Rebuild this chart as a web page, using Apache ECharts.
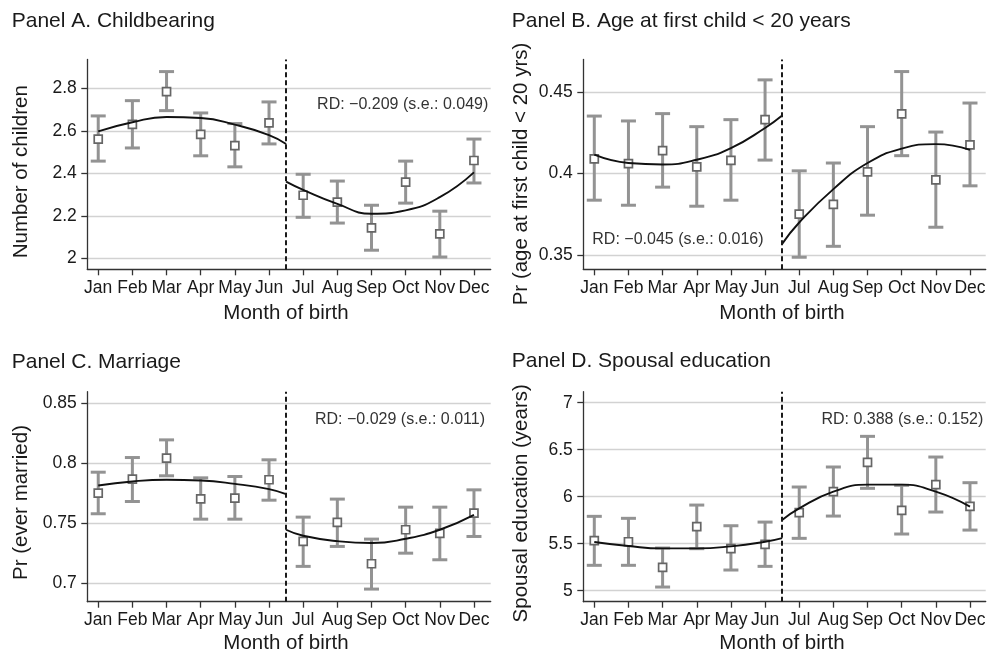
<!DOCTYPE html>
<html>
<head>
<meta charset="utf-8">
<script src="https://cdn.jsdelivr.net/npm/echarts@6/dist/echarts.min.js"></script>
<style>
  html, body { margin: 0; padding: 0; background: #fff; }
  #chart { width: 989px; height: 653px; }
</style>
</head>
<body>
<div id="chart"></div>
<script>
// Month of birth on the x axis (1 = Jan ... 12 = Dec)
const months = ['Jan', 'Feb', 'Mar', 'Apr', 'May', 'Jun', 'Jul', 'Aug', 'Sep', 'Oct', 'Nov', 'Dec'];
const monthNums = [1, 2, 3, 4, 5, 6, 7, 8, 9, 10, 11, 12];
const cutoff = 6.5;

// Panel A: number of children
const childMean = [2.562, 2.631, 2.786, 2.584, 2.531, 2.638, 2.297, 2.265, 2.143, 2.359, 2.115, 2.461];
const childLow  = [2.458, 2.520, 2.696, 2.483, 2.431, 2.539, 2.193, 2.166, 2.038, 2.260, 2.006, 2.355];
const childHigh = [2.671, 2.743, 2.880, 2.685, 2.635, 2.737, 2.396, 2.364, 2.250, 2.458, 2.222, 2.562];
const childFitPre  = [[1, 2.598], [2, 2.641], [3, 2.666], [4, 2.661], [5, 2.630], [6, 2.581], [6.5, 2.539]];
const childFitPost = [[6.5, 2.361], [7, 2.322], [8, 2.256], [9, 2.210], [10, 2.226], [11, 2.288], [12, 2.405]];
const childTicks = [2, 2.2, 2.4, 2.6, 2.8];

// Panel B: probability of first child before age 20
const teenMean = [0.409, 0.406, 0.414, 0.404, 0.408, 0.433, 0.375, 0.381, 0.401, 0.4365, 0.396, 0.4175];
const teenLow  = [0.3836, 0.3805, 0.3916, 0.3799, 0.3836, 0.4082, 0.3486, 0.3553, 0.3744, 0.4109, 0.3670, 0.3924];
const teenHigh = [0.4352, 0.4322, 0.4367, 0.4287, 0.4330, 0.4574, 0.4016, 0.4064, 0.4287, 0.4625, 0.4254, 0.4432];
const teenFitPre  = [[1, 0.4115], [2, 0.4064], [3, 0.4055], [4, 0.4084], [5, 0.4156], [6, 0.4279], [6.5, 0.4355]];
const teenFitPost = [[6.5, 0.3568], [7, 0.3699], [8, 0.3904], [9, 0.4064], [10, 0.4152], [11, 0.4180], [12, 0.4145]];
const teenTicks = [0.35, 0.4, 0.45];

// Panel C: probability of ever being married
const marMean = [0.7748, 0.7864, 0.8039, 0.7700, 0.7706, 0.7859, 0.7346, 0.7504, 0.7160, 0.7443, 0.7412, 0.7581];
const marLow  = [0.7576, 0.7678, 0.7892, 0.7531, 0.7531, 0.7689, 0.7138, 0.7304, 0.6949, 0.7248, 0.7193, 0.7387];
const marHigh = [0.7922, 0.8044, 0.8191, 0.7875, 0.7886, 0.8025, 0.7548, 0.7698, 0.7365, 0.7631, 0.7631, 0.7775];
const marFitPre  = [[1, 0.7811], [2, 0.7845], [3, 0.7859], [4, 0.7853], [5, 0.7825], [6, 0.7781], [6.5, 0.7739]];
const marFitPost = [[6.5, 0.7443], [7, 0.7393], [8, 0.7348], [9, 0.7332], [10, 0.7368], [11, 0.7443], [12, 0.7567]];
const marTicks = [0.7, 0.75, 0.8, 0.85];

// Panel D: spousal education in years
const eduMean = [5.532, 5.521, 5.248, 5.681, 5.447, 5.493, 5.830, 6.053, 6.365, 5.855, 6.128, 5.897];
const eduLow  = [5.270, 5.270, 5.039, 5.447, 5.220, 5.259, 5.557, 5.794, 6.089, 5.603, 5.837, 5.645];
const eduHigh = [5.791, 5.770, 5.454, 5.911, 5.691, 5.730, 6.103, 6.316, 6.642, 6.121, 6.422, 6.149];
const eduFitPre  = [[1, 5.518], [2, 5.475], [3, 5.450], [4, 5.450], [5, 5.472], [6, 5.521], [6.5, 5.560]];
const eduFitPost = [[6.5, 5.752], [7, 5.876], [8, 6.053], [9, 6.128], [10, 6.128], [11, 6.053], [12, 5.894]];
const eduTicks = [5, 5.5, 6, 6.5, 7];

const FONT = '"Liberation Sans", Arial, Helvetica, sans-serif';
const TEXT = '#1a1a1a';

const panels = [
  { mean: childMean, low: childLow, high: childHigh, pre: childFitPre, post: childFitPost, ticks: childTicks,
    grid: { left: 87.3, top: 59.5, width: 403.4, height: 209.8 }, x: [0.68, 12.49], y: [1.948, 2.937] },
  { mean: teenMean, low: teenLow, high: teenHigh, pre: teenFitPre, post: teenFitPost, ticks: teenTicks,
    grid: { left: 583.3, top: 59.5, width: 402.4, height: 209.8 }, x: [0.678, 12.46], y: [0.3412, 0.4699] },
  { mean: marMean, low: marLow, high: marHigh, pre: marFitPre, post: marFitPost, ticks: marTicks,
    grid: { left: 87.3, top: 391.7, width: 403.4, height: 210 }, x: [0.68, 12.49], y: [0.6844, 0.8592] },
  { mean: eduMean, low: eduLow, high: eduHigh, pre: eduFitPre, post: eduFitPost, ticks: eduTicks,
    grid: { left: 583.3, top: 391.7, width: 402.4, height: 210 }, x: [0.678, 12.46], y: [4.883, 7.117] }
];

// Vertical confidence interval with short horizontal caps
function errorBar(params, api) {
  const x = api.value(0);
  const top = api.coord([x, api.value(2)]);
  const bot = api.coord([x, api.value(1)]);
  const half = 7.5;
  const style = { stroke: '#939393', lineWidth: 3, fill: null };
  return {
    type: 'group',
    children: [
      { type: 'line', shape: { x1: top[0], y1: top[1], x2: bot[0], y2: bot[1] }, style: style },
      { type: 'line', shape: { x1: top[0] - half, y1: top[1], x2: top[0] + half, y2: top[1] }, style: style },
      { type: 'line', shape: { x1: bot[0] - half, y1: bot[1], x2: bot[0] + half, y2: bot[1] }, style: style }
    ]
  };
}

const grid = [], xAxis = [], yAxis = [], series = [];
panels.forEach(function (p, i) {
  grid.push(Object.assign({ containLabel: false }, p.grid));
  xAxis.push({
    type: 'value', gridIndex: i, min: p.x[0], max: p.x[1],
    axisLine: { show: true, onZero: false, lineStyle: { color: '#333', width: 1.3 } },
    axisTick: { show: true, length: 6, customValues: monthNums, lineStyle: { color: '#333', width: 1.3 } },
    axisLabel: {
      customValues: monthNums, margin: 9.5, color: TEXT, fontFamily: FONT, fontSize: 17.5,
      formatter: function (v) { return months[Math.round(v) - 1]; }
    },
    splitLine: { show: false }
  });
  yAxis.push({
    type: 'value', gridIndex: i, min: p.y[0], max: p.y[1],
    axisLine: { show: true, onZero: false, lineStyle: { color: '#333', width: 1.3 } },
    axisTick: { show: true, length: 6, customValues: p.ticks, lineStyle: { color: '#333', width: 1.3 } },
    axisLabel: { customValues: p.ticks, margin: 10.5, color: TEXT, fontFamily: FONT, fontSize: 17.5 },
    splitLine: { show: true, lineStyle: { color: '#d2d2d2', width: 1.3 } }
  });
  series.push({
    type: 'custom', xAxisIndex: i, yAxisIndex: i, renderItem: errorBar,
    encode: { x: 0, y: [1, 2] }, z: 2,
    data: monthNums.map(function (m, k) { return [m, p.low[k], p.high[k]]; })
  });
  series.push({
    type: 'scatter', xAxisIndex: i, yAxisIndex: i, symbol: 'rect', symbolSize: 8, z: 3,
    itemStyle: { color: '#fff', borderColor: '#666', borderWidth: 1.7, opacity: 1 },
    data: monthNums.map(function (m, k) { return [m, p.mean[k]]; })
  });
  series.push({
    type: 'line', xAxisIndex: i, yAxisIndex: i, data: p.pre, smooth: 0.5, symbol: 'none', z: 4,
    lineStyle: { color: '#111', width: 1.9 },
    markLine: {
      silent: true, symbol: 'none', label: { show: false },
      lineStyle: { color: '#1a1a1a', type: [5, 3], width: 2 },
      data: [{ xAxis: cutoff }]
    }
  });
  series.push({
    type: 'line', xAxisIndex: i, yAxisIndex: i, data: p.post, smooth: 0.5, symbol: 'none', z: 4,
    lineStyle: { color: '#111', width: 1.9 }
  });
});

function label(text, x, y, size, align, rotate, color) {
  return {
    type: 'text', x: x, y: y, rotation: rotate ? Math.PI / 2 : 0, silent: true,
    style: {
      text: text, font: size + 'px ' + FONT, fill: color || TEXT,
      align: align, verticalAlign: 'middle', textAlign: align, textVerticalAlign: 'middle'
    }
  };
}

const graphic = [
  // panel titles
  label('Panel A. Childbearing', 11.7, 21, 21, 'left'),
  label('Panel B. Age at first child < 20 years', 511.7, 21, 21, 'left'),
  label('Panel C. Marriage', 11.7, 362, 21, 'left'),
  label('Panel D. Spousal education', 511.7, 361, 21, 'left'),
  // y axis titles
  label('Number of children', 21.7, 171.7, 20.5, 'center', true),
  label('Pr (age at first child < 20 yrs)', 521.7, 174, 20.5, 'center', true),
  label('Pr (ever married)', 21.7, 502.5, 20.5, 'center', true),
  label('Spousal education (years)', 521.7, 503.3, 20.5, 'center', true),
  // x axis titles
  label('Month of birth', 286, 313.5, 20.5, 'center'),
  label('Month of birth', 782, 313.5, 20.5, 'center'),
  label('Month of birth', 286, 643.5, 20.5, 'center'),
  label('Month of birth', 782, 643.5, 20.5, 'center'),
  // discontinuity estimates
  label('RD: \u22120.209 (s.e.: 0.049)', 488.3, 105, 16, 'right', false, '#333'),
  label('RD: \u22120.045 (s.e.: 0.016)', 592.3, 240, 16, 'left', false, '#333'),
  label('RD: \u22120.029 (s.e.: 0.011)', 485, 420, 16, 'right', false, '#333'),
  label('RD: 0.388 (s.e.: 0.152)', 983.3, 420, 16, 'right', false, '#333')
];

const chart = echarts.init(document.getElementById('chart'), null, { renderer: 'canvas' });
chart.setOption({
  backgroundColor: '#fff',
  animation: false,
  grid: grid,
  xAxis: xAxis,
  yAxis: yAxis,
  series: series,
  graphic: graphic
});
</script>
</body>
</html>
